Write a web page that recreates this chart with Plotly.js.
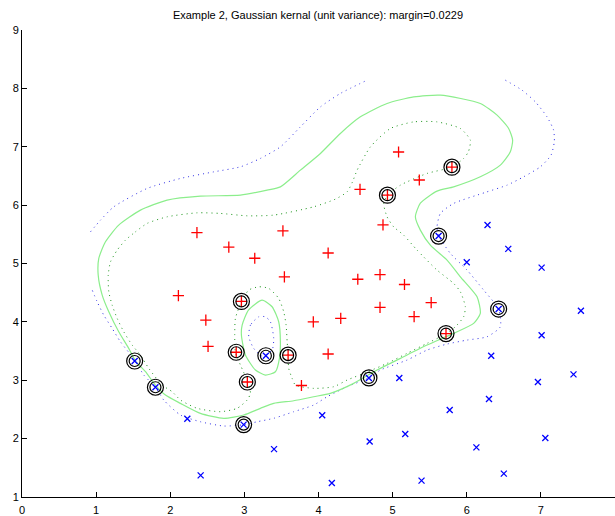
<!DOCTYPE html>
<html>
<head>
<meta charset="utf-8">
<script src="https://cdn.plot.ly/plotly-3.0.1.min.js"></script>
<style>html,body{margin:0;padding:0;background:#fff}#chart{width:615px;height:516px}</style>
</head>
<body>
<div id="chart"></div>
<script>
// Class +1 (red plus) samples
const redX = [2.36,2.79,3.14,3.52,2.11,2.48,2.51,3.54,4.13,4.56,5.08,5.36,4.87,4.53,4.83,5.16,5.52,4.83,5.29,3.93,4.30,4.13,3.77,
              4.93,5.80,3.59,5.72,2.96,2.89,3.04];
const redY = [5.53,5.28,5.09,5.56,4.45,4.03,3.58,4.77,5.18,6.27,6.91,6.43,5.66,4.73,4.81,4.64,4.33,4.25,4.09,4.00,4.06,3.45,2.91,
              6.17,6.65,3.43,3.80,4.35,3.48,2.97];
// Class -1 (blue x) samples
const blueX = [6.00,5.09,6.56,7.01,7.54,7.01,6.33,6.96,7.44,6.30,6.28,2.23,3.40,2.41,4.05,4.18,5.77,4.69,5.17,7.06,6.13,6.50,5.39,
               3.29,1.52,1.80,5.62,4.68,6.43,2.99];
const blueY = [5.02,3.04,5.25,4.93,4.19,3.77,3.42,2.97,3.10,2.68,5.66,2.34,1.82,1.37,2.40,1.24,2.49,1.95,2.08,2.01,1.85,1.40,1.28,
               3.42,3.33,2.88,5.47,3.04,4.22,2.24];
// Support vectors
const svX = [4.93,5.80,3.59,5.72,2.96,2.89,3.04,3.29,1.52,1.80,5.62,4.68,6.43,2.99];
const svY = [6.17,6.65,3.43,3.80,4.35,3.48,2.97,3.42,3.33,2.88,5.47,3.04,4.22,2.24];

// Decision boundary f(x)=0 (outer loop)
const boundaryX = [1.028,1.036,1.126,1.305,1.598,1.958,2.407,2.947,3.307,3.486,3.756,4.026,4.295,4.565,4.925,5.284,5.644,6.183,6.409,6.565,6.619,6.588,6.453,6.183,5.823,5.599,5.374,5.307,5.374,5.509,5.734,5.914,6.139,6.183,6.093,5.823,5.465,5.105,4.790,4.475,4.160,3.935,3.666,3.396,3.216,2.991,2.722,2.407,2.138,1.935,1.800,1.666,1.531,1.440,1.305,1.171,1.082,1.028];
const boundaryY = [4.801,5.087,5.372,5.658,5.914,6.086,6.154,6.171,6.257,6.313,6.599,6.885,7.228,7.512,7.741,7.854,7.884,7.741,7.541,7.313,7.113,6.913,6.685,6.485,6.313,6.240,6.034,5.800,5.572,5.315,5.058,4.772,4.430,4.146,3.974,3.803,3.603,3.375,3.175,2.947,2.776,2.717,2.649,2.604,2.519,2.404,2.348,2.433,2.604,2.747,2.918,3.146,3.329,3.546,3.830,4.173,4.459,4.801];
// Decision boundary f(x)=0 (island)
const islandX = [3.239,3.374,3.463,3.486,3.473,3.419,3.284,3.149,3.014,2.960,2.970,3.055,3.239];
const islandY = [4.373,4.259,4.002,3.659,3.375,3.146,3.089,3.175,3.432,3.774,3.945,4.202,4.373];
// Margin f(x)=+1
const marginPosX = [1.396,1.531,1.688,1.958,2.363,2.677,3.037,3.396,3.935,4.228,4.386,4.457,4.521,4.700,4.970,5.284,5.599,5.914,6.049,6.022,5.958,5.796,5.465,5.105,4.933,4.879,4.925,5.014,5.149,5.330,5.599,5.823,5.914,5.981,5.958,5.846,5.721,5.465,5.195,4.925,4.655,4.386,4.205,3.935,3.688,3.644,3.598,3.590,3.577,3.563,3.531,3.463,3.328,3.194,3.059,2.960,2.879,2.870,2.879,2.947,3.045,3.082,3.037,2.902,2.677,2.363,2.138,2.026,1.891,1.710,1.598,1.486,1.373,1.284,1.216,1.171,1.163,1.194,1.284,1.396];
const marginPosY = [5.401,5.543,5.687,5.800,5.868,5.858,5.817,5.829,5.971,6.103,6.228,6.394,6.599,6.998,7.313,7.426,7.426,7.313,7.113,6.913,6.800,6.651,6.543,6.342,6.171,6.029,5.800,5.628,5.486,5.229,4.887,4.659,4.515,4.259,4.087,3.916,3.796,3.632,3.461,3.289,3.140,3.003,2.889,2.861,2.918,3.033,3.204,3.432,3.659,3.945,4.173,4.402,4.574,4.601,4.545,4.344,4.060,3.774,3.478,3.260,2.974,2.776,2.661,2.519,2.461,2.519,2.661,2.803,2.918,3.204,3.432,3.603,3.830,4.060,4.288,4.515,4.801,5.029,5.229,5.401];
// Margin f(x)=-1 (three pieces)
const marginNegAX = [0.924,1.059,1.238,1.688,2.138,2.587,2.947,3.216,3.486,3.756,4.026,4.295,4.655];
const marginNegAY = [5.543,5.743,5.971,6.286,6.457,6.570,6.656,6.800,6.998,7.341,7.683,7.913,8.140];
const marginNegBX = [6.521,6.746,6.925,7.083,7.172,7.181,7.137,6.993,6.767,6.544,6.251,5.823,5.644,5.599,5.621,5.779,6.004,6.228,6.430,6.453,6.274,6.004,5.734,5.465,5.195,4.835,4.682,4.386,4.116,3.935,3.666,3.396,3.172,2.991,2.722,2.407,2.138,1.912,1.804,1.643,1.531,1.328,1.216,1.103,1.014,0.947];
const marginNegBY = [8.140,7.969,7.769,7.512,7.284,7.084,6.856,6.656,6.485,6.342,6.218,6.029,5.858,5.628,5.474,5.173,4.887,4.545,4.219,3.916,3.745,3.688,3.620,3.517,3.346,3.175,3.043,2.889,2.717,2.575,2.461,2.348,2.289,2.238,2.216,2.289,2.404,2.661,2.878,3.089,3.329,3.659,3.889,4.116,4.344,4.545];
const marginNegCX = [3.194,3.082,3.059,3.126,3.239,3.374,3.396,3.351,3.284,3.194];
const marginNegCY = [4.087,3.945,3.745,3.546,3.414,3.517,3.717,4.002,4.087,4.087];

const titleText = 'Example 2, Gaussian kernal (unit variance): margin=0.0229';
const xTicks = [0,1,2,3,4,5,6,7,8];
const yTicks = [1,2,3,4,5,6,7,8,9];

const solidGreen = 'rgb(140,238,140)';
const dotGreen = 'rgb(30,150,30)';
const dotBlue = 'rgb(50,50,230)';
const dotDash = '1px,4px';

function line(x, y, color, dash, w) {
  return {x: x, y: y, type: 'scatter', mode: 'lines', hoverinfo: 'skip',
          line: {color: color, width: w, dash: dash, shape: 'spline', smoothing: 0.6}};
}

const traces = [
  line(marginNegAX, marginNegAY, dotBlue, dotDash, 1),
  line(marginNegBX, marginNegBY, dotBlue, dotDash, 1),
  line(marginNegCX, marginNegCY, dotBlue, dotDash, 1),
  line(marginPosX, marginPosY, dotGreen, dotDash, 1),
  line(boundaryX, boundaryY, solidGreen, 'solid', 1.2),
  line(islandX, islandY, solidGreen, 'solid', 1.2),
  {x: redX, y: redY, type: 'scatter', mode: 'markers',
   marker: {symbol: 'cross-thin-open', size: 8, color: 'rgb(255,0,0)', line: {color: 'rgb(255,0,0)', width: 1.3}}},
  {x: blueX, y: blueY, type: 'scatter', mode: 'markers',
   marker: {symbol: 'x-thin-open', size: 6, color: 'rgb(0,0,255)', line: {color: 'rgb(0,0,255)', width: 1.3}}},
  {x: svX, y: svY, type: 'scatter', mode: 'markers',
   marker: {symbol: 'circle-open', size: 16, color: '#000', line: {color: '#000', width: 1.2}}},
  {x: svX, y: svY, type: 'scatter', mode: 'markers',
   marker: {symbol: 'circle-open', size: 11, color: '#000', line: {color: '#000', width: 1.2}}}
];

const axisCommon = {
  showgrid: false, zeroline: false, showline: true, linecolor: '#000', linewidth: 1,
  ticks: 'inside', ticklen: 5, tickcolor: '#000', tickwidth: 1,
  tickfont: {family: 'Liberation Sans, Arial, sans-serif', size: 11, color: '#000'},
  mirror: false, fixedrange: true
};

const layout = {
  width: 615, height: 516,
  margin: {l: 22, r: 0, t: 30, b: 19},
  paper_bgcolor: '#fff', plot_bgcolor: '#fff',
  showlegend: false,
  title: {text: titleText, font: {family: 'Liberation Sans, Arial, sans-serif', size: 11, color: '#000'},
          x: 0.517, xanchor: 'center', xref: 'container', y: 0.971, yanchor: 'middle', yref: 'container'},
  xaxis: Object.assign({}, axisCommon, {range: [0, 8], tickvals: xTicks, ticktext: xTicks.map(String), ticklabelstandoff: 3}),
  yaxis: Object.assign({}, axisCommon, {range: [1, 9], tickvals: yTicks, ticktext: yTicks.map(String)})
};

Plotly.newPlot('chart', traces, layout, {displayModeBar: false, staticPlot: true});
</script>
</body>
</html>
